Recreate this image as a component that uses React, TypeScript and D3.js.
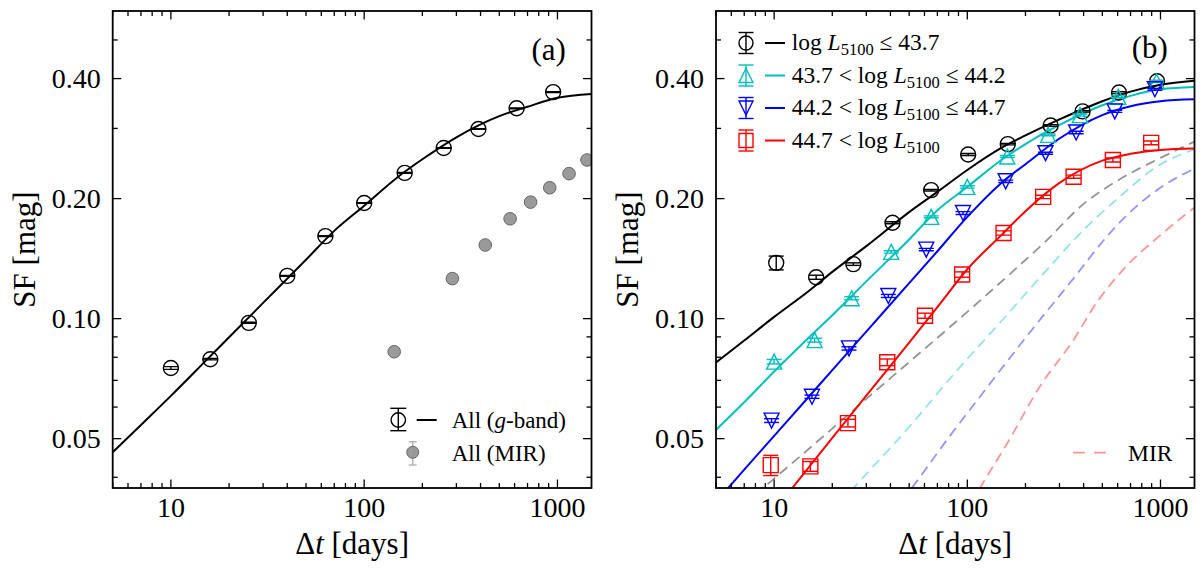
import React from 'react';
import * as d3 from 'd3';

const FONT = "'Liberation Serif', 'Times New Roman', Times, serif";

// shared axes
const xDomain: [number, number] = [5, 1500];
const yDomain: [number, number] = [0.0376, 0.591];
const xMajor = [10, 100, 1000];
const xMajorLabels = ['10', '100', '1000'];
const xMinor = [5, 6, 7, 8, 9, 20, 30, 40, 50, 60, 70, 80, 90, 200, 300, 400, 500, 600, 700, 800, 900];
const yMajor = [0.05, 0.1, 0.2, 0.4];
const yMajorLabels = ['0.05', '0.10', '0.20', '0.40'];
const yMinor = [0.04, 0.06, 0.07, 0.08, 0.09, 0.3, 0.5];

// grid of the fitted curves
const tFit = [5, 7, 10, 15, 20, 30, 50, 70, 100, 150, 200, 300, 500, 700, 1000, 1500];

// panel (a)
const tAll = [10, 16, 25.3, 40, 63, 100, 162, 258, 390, 615, 950];
const sfAll = [0.0752, 0.0791, 0.0976, 0.128, 0.161, 0.195, 0.232, 0.268, 0.299, 0.337, 0.370];
const errAll = [0.0006, 0.0003, 0.0003, 0.0003, 0.0004, 0.0004, 0.0005, 0.0005, 0.0006, 0.0008, 0.001];
const fitAll = [0.0462, 0.0541, 0.064, 0.078, 0.0898, 0.1095, 0.1405, 0.166, 0.192, 0.227, 0.251, 0.285, 0.322, 0.340, 0.358, 0.366];
const tMirA = [143, 286, 423, 569, 726, 912, 1148, 1422];
const sfMirA = [0.0826, 0.126, 0.153, 0.178, 0.196, 0.213, 0.231, 0.250];
const errMirA = [0.002, 0.002, 0.002, 0.002, 0.002, 0.002, 0.002, 0.002];

// panel (b): four luminosity bins
const binLabels = [
  { pre: '', post: ' \u2264 43.7' },
  { pre: '43.7 < ', post: ' \u2264 44.2' },
  { pre: '44.2 < ', post: ' \u2264 44.7' },
  { pre: '44.7 < ', post: '' },
];
const binColors = ['#000000', '#00bfbf', '#0000ff', '#ff0000'];
const binShapes = ['circle', 'triUp', 'triDown', 'square'];

const tBin1 = [10.25, 16.5, 25.7, 41, 65, 101, 162, 270, 395, 610, 960];
const sfBin1 = [0.138, 0.127, 0.137, 0.174, 0.210, 0.258, 0.274, 0.305, 0.331, 0.369, 0.394];
const errBin1 = [0.0055, 0.0015, 0.001, 0.001, 0.001, 0.0015, 0.0012, 0.0015, 0.0015, 0.002, 0.002];
const fitBin1 = [0.0776, 0.0881, 0.101, 0.117, 0.131, 0.152, 0.185, 0.208, 0.236, 0.268, 0.288, 0.316, 0.351, 0.371, 0.386, 0.395];

const tBin2 = [10, 16.2, 25.2, 40.4, 65, 100, 161, 262, 383, 605, 955];
const sfBin2 = [0.078, 0.0883, 0.1125, 0.147, 0.180, 0.214, 0.255, 0.289, 0.324, 0.360, 0.393];
const errBin2 = [0.001, 0.001, 0.001, 0.001, 0.001, 0.0015, 0.0015, 0.0015, 0.002, 0.002, 0.002];
const fitBin2 = [0.0526, 0.0617, 0.0737, 0.0893, 0.102, 0.124, 0.158, 0.187, 0.214, 0.250, 0.274, 0.306, 0.343, 0.362, 0.376, 0.381];

const tBin3 = [9.7, 15.7, 24.4, 39, 61.3, 95, 158, 254, 366, 580, 935];
const sfBin3 = [0.0555, 0.0637, 0.0842, 0.114, 0.149, 0.184, 0.221, 0.260, 0.293, 0.331, 0.376];
const errBin3 = [0.0006, 0.0006, 0.0008, 0.001, 0.001, 0.0015, 0.0015, 0.0015, 0.002, 0.002, 0.002];
const fitBin3 = [0.0347, 0.0418, 0.0508, 0.0634, 0.0743, 0.0928, 0.1227, 0.1476, 0.180, 0.219, 0.244, 0.283, 0.324, 0.341, 0.351, 0.355];

const tBin4 = [9.6, 15.4, 24.1, 38.5, 60.4, 94, 154, 247, 355, 567, 895];
const sfBin4 = [0.0429, 0.0426, 0.0547, 0.0777, 0.1017, 0.129, 0.164, 0.202, 0.227, 0.250, 0.276];
const errBin4 = [0.0025, 0.0012, 0.0012, 0.0015, 0.0015, 0.002, 0.002, 0.002, 0.002, 0.003, 0.003];
const fitBin4 = [0.0217, 0.0267, 0.033, 0.0422, 0.0502, 0.0641, 0.0871, 0.1069, 0.133, 0.162, 0.186, 0.219, 0.249, 0.259, 0.265, 0.267];

// MIR curves in panel (b)
const tMir1 = [8, 10, 20, 30, 50, 100, 180, 250, 400, 600, 1000, 1500];
const sfMir1 = [0.0362, 0.0397, 0.053, 0.0629, 0.0778, 0.104, 0.134, 0.155, 0.194, 0.222, 0.253, 0.278];
const tMir2 = [25, 28, 50, 86, 150, 267, 400, 600, 950, 1500];
const sfMir2 = [0.037, 0.0393, 0.0535, 0.073, 0.0985, 0.135, 0.167, 0.200, 0.240, 0.266];
const tMir3 = [46, 52, 81, 120, 202, 354, 524, 664, 985, 1500];
const sfMir3 = [0.035, 0.0378, 0.0507, 0.065, 0.090, 0.126, 0.160, 0.181, 0.212, 0.238];
const tMir4 = [105, 117, 165, 237, 354, 465, 640, 1030, 1500];
const sfMir4 = [0.0345, 0.0378, 0.0497, 0.0675, 0.0883, 0.1093, 0.1325, 0.164, 0.190];

const TOP = 11;
const BOTTOM = 488;

type Scale = d3.ScaleLogarithmic<number, number>;

const pairs = (ts: number[], vs: number[]) => ts.map((t, i) => [t, vs[i]] as [number, number]);

function shapePath(shape: string, cx: number, cy: number, r: number) {
  if (shape === 'triUp') return `M${cx},${cy - r}L${cx - r},${cy + r}L${cx + r},${cy + r}Z`;
  if (shape === 'triDown') return `M${cx},${cy + r}L${cx - r},${cy - r}L${cx + r},${cy - r}Z`;
  if (shape === 'square') return `M${cx - r},${cy - r}H${cx + r}V${cy + r}H${cx - r}Z`;
  return `M${cx - r},${cy}A${r},${r} 0 1,0 ${cx + r},${cy}A${r},${r} 0 1,0 ${cx - r},${cy}Z`;
}

function ErrPoint({ px, y1, y2, cy, shape, color, cap = 7.5, r = 7.5 }: any) {
  return (
    <g stroke={color} strokeWidth={1.4} fill="none">
      <line x1={px} x2={px} y1={y1} y2={y2} />
      <line x1={px - cap} x2={px + cap} y1={y1} y2={y1} />
      <line x1={px - cap} x2={px + cap} y1={y2} y2={y2} />
      <path d={shapePath(shape, px, cy, r)} />
    </g>
  );
}

function Axes({ x, y, left, right, yLabelX }: { x: Scale; y: Scale; left: number; right: number; yLabelX: number }) {
  const major = 8.5;
  const minor = 5;
  return (
    <g fontFamily={FONT} fill="#000">
      <g stroke="#000" strokeWidth={1.3}>
        {xMajor.map(t => (
          <g key={'xM' + t}>
            <line x1={x(t)} x2={x(t)} y1={BOTTOM} y2={BOTTOM - major} />
            <line x1={x(t)} x2={x(t)} y1={TOP} y2={TOP + major} />
          </g>
        ))}
        {xMinor.map(t => (
          <g key={'xm' + t}>
            <line x1={x(t)} x2={x(t)} y1={BOTTOM} y2={BOTTOM - minor} />
            <line x1={x(t)} x2={x(t)} y1={TOP} y2={TOP + minor} />
          </g>
        ))}
        {yMajor.map(v => (
          <g key={'yM' + v}>
            <line x1={left} x2={left + major} y1={y(v)} y2={y(v)} />
            <line x1={right} x2={right - major} y1={y(v)} y2={y(v)} />
          </g>
        ))}
        {yMinor.map(v => (
          <g key={'ym' + v}>
            <line x1={left} x2={left + minor} y1={y(v)} y2={y(v)} />
            <line x1={right} x2={right - minor} y1={y(v)} y2={y(v)} />
          </g>
        ))}
      </g>
      <rect x={left} y={TOP} width={right - left} height={BOTTOM - TOP} fill="none" stroke="#000" strokeWidth={1.8} />
      {xMajor.map((t, i) => (
        <text key={'xl' + t} x={x(t)} y={517} fontSize={28} textAnchor="middle">{xMajorLabels[i]}</text>
      ))}
      {yMajor.map((v, i) => (
        <text key={'yl' + v} x={left - 12} y={y(v) + 9} fontSize={28} textAnchor="end">{yMajorLabels[i]}</text>
      ))}
      <text x={(left + right) / 2} y={554} fontSize={31} textAnchor="middle">
        {'\u0394'}<tspan fontStyle="italic">t</tspan> [days]
      </text>
      <text transform={`translate(${yLabelX},${(TOP + BOTTOM) / 2}) rotate(-90)`} fontSize={31} textAnchor="middle">SF [mag]</text>
    </g>
  );
}

function PanelA() {
  const left = 112.7;
  const right = 591.5;
  const x = d3.scaleLog().domain(xDomain).range([left, right]);
  const y = d3.scaleLog().domain(yDomain).range([BOTTOM, TOP]);
  const line = d3.line<[number, number]>().x(d => x(d[0])).y(d => y(d[1])).curve(d3.curveMonotoneX);
  return (
    <g>
      <defs>
        <clipPath id="clipA"><rect x={left} y={TOP} width={right - left} height={BOTTOM - TOP} /></clipPath>
      </defs>
      <g clipPath="url(#clipA)">
        <path d={line(pairs(tFit, fitAll)) || ''} fill="none" stroke="#000" strokeWidth={2} />
        {tAll.map((t, i) => (
          <ErrPoint key={i} px={x(t)} cy={y(sfAll[i])} y1={y(sfAll[i] - errAll[i])} y2={y(sfAll[i] + errAll[i])} shape="circle" color="#000" />
        ))}
        {tMirA.map((t, i) => (
          <g key={i}>
            <g stroke="#b0b0b0" strokeWidth={1.4}>
              <line x1={x(t)} x2={x(t)} y1={y(sfMirA[i] - errMirA[i])} y2={y(sfMirA[i] + errMirA[i])} />
            </g>
            <circle cx={x(t)} cy={y(sfMirA[i])} r={6.3} fill="#9a9a9a" stroke="#666" strokeWidth={1} />
          </g>
        ))}
      </g>
      <Axes x={x} y={y} left={left} right={right} yLabelX={35} />
      <text x={531.5} y={60} fontFamily={FONT} fontSize={31}>(a)</text>
      {/* legend */}
      <g fontFamily={FONT} fontSize={23}>
        <ErrPoint px={398.3} cy={420} y1={408.3} y2={430.7} shape="circle" color="#000" cap={8} r={7.2} />
        <line x1={416.7} x2={436.7} y1={420} y2={420} stroke="#000" strokeWidth={2} />
        <text x={451.7} y={428}>All (<tspan fontStyle="italic">g</tspan>-band)</text>
        <g stroke="#b0b0b0" strokeWidth={1.4}>
          <line x1={412.7} x2={412.7} y1={441.7} y2={465} />
          <line x1={408.7} x2={416.7} y1={441.7} y2={441.7} />
          <line x1={408.7} x2={416.7} y1={465} y2={465} />
        </g>
        <circle cx={412.7} cy={452.3} r={6} fill="#9a9a9a" stroke="#666" strokeWidth={1} />
        <text x={451.7} y={460.5}>All (MIR)</text>
      </g>
    </g>
  );
}

function PanelB() {
  const left = 716;
  const right = 1194.5;
  const x = d3.scaleLog().domain(xDomain).range([left, right]);
  const y = d3.scaleLog().domain(yDomain).range([BOTTOM, TOP]);
  const line = d3.line<[number, number]>().x(d => x(d[0])).y(d => y(d[1])).curve(d3.curveMonotoneX);
  const bins = [
    { t: tBin1, v: sfBin1, e: errBin1, fit: fitBin1 },
    { t: tBin2, v: sfBin2, e: errBin2, fit: fitBin2 },
    { t: tBin3, v: sfBin3, e: errBin3, fit: fitBin3 },
    { t: tBin4, v: sfBin4, e: errBin4, fit: fitBin4 },
  ];
  const mirs = [
    { t: tMir1, v: sfMir1 },
    { t: tMir2, v: sfMir2 },
    { t: tMir3, v: sfMir3 },
    { t: tMir4, v: sfMir4 },
  ];
  return (
    <g>
      <defs>
        <clipPath id="clipB"><rect x={left} y={TOP} width={right - left} height={BOTTOM - TOP} /></clipPath>
      </defs>
      <g clipPath="url(#clipB)">
        {mirs.map((m, k) => (
          <path key={'mir' + k} d={line(pairs(m.t, m.v)) || ''} fill="none" stroke={binColors[k]}
            strokeOpacity={0.42} strokeWidth={1.8} strokeDasharray="10,6" />
        ))}
        {bins.map((b, k) => (
          <path key={'fit' + k} d={line(pairs(tFit, b.fit)) || ''} fill="none" stroke={binColors[k]} strokeWidth={2} />
        ))}
        {bins.map((b, k) => (
          <g key={'pts' + k}>
            {b.t.map((t, i) => (
              <ErrPoint key={i} px={x(t)} cy={y(b.v[i])} y1={y(b.v[i] - b.e[i])} y2={y(b.v[i] + b.e[i])}
                shape={binShapes[k]} color={binColors[k]} />
            ))}
          </g>
        ))}
      </g>
      <Axes x={x} y={y} left={left} right={right} yLabelX={638.3} />
      <text x={1131.7} y={58} fontFamily={FONT} fontSize={31}>(b)</text>
      {/* legend */}
      <g fontFamily={FONT} fontSize={23.5}>
        {binLabels.map((lab, k) => {
          const cy = 43 + 32.5 * k;
          return (
            <g key={'leg' + k}>
              <ErrPoint px={746} cy={cy} y1={cy - 10.5} y2={cy + 10.5} shape={binShapes[k]} color={binColors[k]} r={7} />
              <line x1={765} x2={785} y1={cy} y2={cy} stroke={binColors[k]} strokeWidth={2} />
              <text x={791.7} y={cy + 7}>
                {lab.pre}log <tspan fontStyle="italic">L</tspan>
                <tspan fontSize={16.5} dy={5}>5100</tspan>
                <tspan dy={-5}>{lab.post}</tspan>
              </text>
            </g>
          );
        })}
        <line x1={1073} x2={1110} y1={452.7} y2={452.7} stroke="#ff0000" strokeOpacity={0.42} strokeWidth={1.8} strokeDasharray="12,9" />
        <text x={1128} y={461}>MIR</text>
      </g>
    </g>
  );
}

export default function App() {
  return (
    <svg width={1200} height={568} viewBox="0 0 1200 568"
      style={{ position: 'absolute', left: 0, top: 0, background: '#fff' }}>
      <rect x={0} y={0} width={1200} height={568} fill="#fff" />
      <PanelA />
      <PanelB />
    </svg>
  );
}
